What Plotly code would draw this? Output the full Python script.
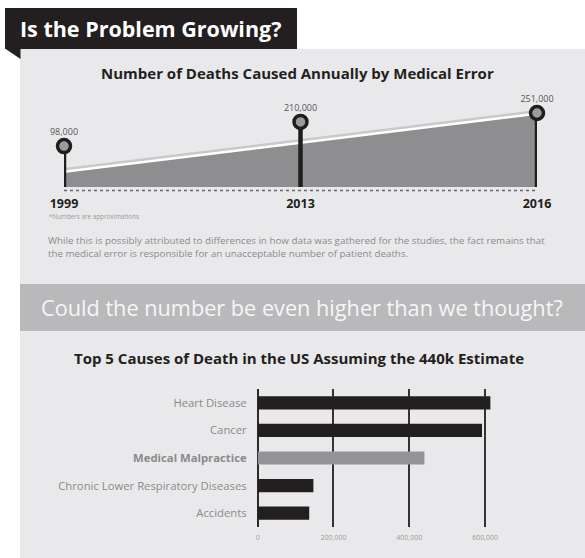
import plotly.graph_objects as go

# ---------------- data ----------------
years = ["1999", "2013", "2016"]
deaths = [98000, 210000, 251000]
death_labels = ["98,000", "210,000", "251,000"]

causes = ["Heart Disease", "Cancer", "Medical Malpractice",
          "Chronic Lower Respiratory Diseases", "Accidents"]
cause_values = [614000, 592000, 440000, 147000, 136000]
cause_tick_text = ["Heart Disease", "Cancer", "<b>Medical Malpractice</b>",
                   "Chronic Lower Respiratory Diseases", "Accidents"]
bar_ticks = [0, 200000, 400000, 600000]

# ---------------- layout helpers ----------------
W, H = 585, 558
FONT = "Open Sans"


def px(x):
    return x / W


def py(y):
    return 1 - y / H


PIN_MIN = -91100
PIN_RANGE = [PIN_MIN, 357400]
AREA_RANGE = [60950, 316900]
xs = list(range(len(years)))

fig = go.Figure()

# area (on y) with decoration lines partly covered by the fill
fig.add_trace(go.Scatter(x=[xs[0], xs[-1]], y=[deaths[0], deaths[-1]], yaxis="y",
                         mode="lines", line=dict(color="#c9c9cb", width=10),
                         hoverinfo="skip", showlegend=False))
fig.add_trace(go.Scatter(x=[xs[0], xs[-1]], y=[deaths[0], deaths[-1]], yaxis="y",
                         mode="lines", line=dict(color="#ffffff", width=5),
                         hoverinfo="skip", showlegend=False))
fig.add_trace(go.Scatter(x=[xs[0], xs[-1]], y=[deaths[0], deaths[-1]], yaxis="y",
                         mode="lines", line=dict(color="#8e8e90", width=0),
                         fill="tozeroy", fillcolor="#8e8e90",
                         hoverinfo="skip", showlegend=False))

# pins (on y2, overlaying, so drawn above the area)
pin_x, pin_y = [], []
for xi, v in zip(xs, deaths):
    pin_x += [xi, xi, None]
    pin_y += [PIN_MIN, v, None]
fig.add_trace(go.Scatter(x=pin_x, y=pin_y, yaxis="y2", mode="lines",
                         line=dict(color="#1e1e1e", width=4.5),
                         hoverinfo="skip", showlegend=False, cliponaxis=False))
fig.add_trace(go.Scatter(x=xs, y=deaths, yaxis="y2", mode="markers+text",
                         text=death_labels, textposition="top center",
                         textfont=dict(family=FONT, size=9, color="#555555"),
                         marker=dict(size=13, color="#9b9b9b",
                                     line=dict(color="#1e1e1e", width=3.5)),
                         showlegend=False, cliponaxis=False))

# bar chart
fig.add_trace(go.Bar(x=cause_values, y=causes, orientation="h",
                     xaxis="x2", yaxis="y3", width=0.48,
                     marker=dict(color=["#231f20", "#231f20", "#939395", "#231f20", "#231f20"],
                                 line=dict(width=0)),
                     showlegend=False))

shapes = [
    # panel
    dict(type="rect", xref="paper", yref="paper", x0=px(20), x1=px(585), y0=py(558), y1=py(49),
         fillcolor="#e9e9eb", line=dict(width=0), layer="below"),
    # banner band
    dict(type="rect", xref="paper", yref="paper", x0=px(20), x1=px(585), y0=py(331), y1=py(284),
         fillcolor="#b9b9bb", line=dict(width=0), layer="below"),
    # header box
    dict(type="rect", xref="paper", yref="paper", x0=px(5), x1=px(297), y0=py(49), y1=py(8),
         fillcolor="#231f20", line=dict(width=0), layer="below"),
    dict(type="path", xref="paper", yref="paper",
         path=f"M {px(5)},{py(48.5)} L {px(20.5)},{py(48.5)} L {px(20.5)},{py(59)} Z",
         fillcolor="#231f20", line=dict(width=0), layer="below"),
    # dotted baseline
    dict(type="line", xref="x", yref="y domain", x0=xs[0], x1=xs[-1], y0=-0.035, y1=-0.035,
         line=dict(color="#666666", width=1.5, dash="dot"), layer="below"),
]

annotations = [
    dict(text="<b>Is the Problem Growing?</b>", x=px(18), y=py(28), xref="paper", yref="paper",
         xanchor="left", yanchor="middle", showarrow=False,
         font=dict(family=FONT, size=21.5, color="#ffffff")),
    dict(text="<b>Number of Deaths Caused Annually by Medical Error</b>", x=px(297), y=py(73),
         xref="paper", yref="paper", xanchor="center", yanchor="middle", showarrow=False,
         font=dict(family=FONT, size=15, color="#231f20")),
    dict(text="*Numbers are approximations", x=px(47), y=py(216), xref="paper", yref="paper",
         xanchor="left", yanchor="middle", showarrow=False,
         font=dict(family=FONT, size=6.3, color="#9a9a9a")),
    dict(text="While this is possibly attributed to differences in how data was gathered for the studies, the fact remains that"
              "<br>the medical error is responsible for an unacceptable number of patient deaths.",
         x=px(46), y=py(232), xref="paper", yref="paper", xanchor="left", yanchor="top",
         align="left", showarrow=False,
         font=dict(family=FONT, size=9.8, color="#8a8a8a")),
    dict(text="Could the number be even higher than we thought?", x=px(302), y=py(307),
         xref="paper", yref="paper", xanchor="center", yanchor="middle", showarrow=False,
         font=dict(family=FONT, size=21.7, color="#f6f6f6")),
    dict(text="<b>Top 5 Causes of Death in the US Assuming the 440k Estimate</b>", x=px(299), y=py(358),
         xref="paper", yref="paper", xanchor="center", yanchor="middle", showarrow=False,
         font=dict(family=FONT, size=15, color="#231f20")),
]

fig.update_layout(
    width=W, height=H, margin=dict(l=0, r=0, t=0, b=0), autosize=False,
    paper_bgcolor="#ffffff", plot_bgcolor="rgba(0,0,0,0)",
    showlegend=False, shapes=shapes, annotations=annotations,
    xaxis=dict(domain=[px(64), px(537)], range=[xs[0], xs[-1]], anchor="y", automargin=False,
               tickvals=xs, ticktext=years, showgrid=False, zeroline=False, showline=False,
               ticks="outside", ticklen=5, tickcolor="rgba(0,0,0,0)",
               tickfont=dict(family=FONT, size=12.5, color="#231f20", weight="bold")),
    yaxis=dict(domain=[py(187), py(90)], range=AREA_RANGE, visible=False, anchor="x",
               automargin=False),
    yaxis2=dict(overlaying="y", range=PIN_RANGE, visible=False, anchor="x", automargin=False),
    xaxis2=dict(domain=[px(257.7), px(504)], range=[0, 650000], anchor="y3", automargin=False,
                tickvals=bar_ticks, tickformat=",d", showgrid=True, gridcolor="#333333",
                gridwidth=2, zeroline=True, zerolinecolor="#2a2a2a", zerolinewidth=2,
                showline=False, ticks="outside", ticklen=4, tickcolor="rgba(0,0,0,0)",
                tickfont=dict(family=FONT, size=7, color="#9a9a9a")),
    yaxis3=dict(domain=[py(527), py(389)], anchor="x2", autorange="reversed", automargin=False,
                tickvals=causes, ticktext=cause_tick_text, showgrid=False, zeroline=False,
                showline=False, ticks="", ticklabelstandoff=10,
                tickfont=dict(family=FONT, size=11.3, color="#8a8a8a")),
)

fig.write_html(
    "out.html",
    config={"responsive": False, "displayModeBar": False},
    post_script=("document.documentElement.style.margin='0';"
                 "document.body.style.margin='0';"
                 "document.documentElement.style.overflow='hidden';"
                 "document.body.style.overflow='hidden';"),
)
